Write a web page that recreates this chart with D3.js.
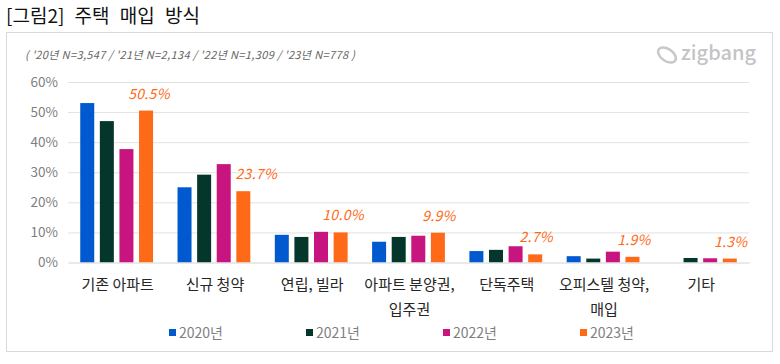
<!DOCTYPE html>
<html>
<head>
<meta charset="utf-8">
<script src="https://cdn.jsdelivr.net/npm/d3@7"></script>
<style>
html, body { margin: 0; padding: 0; background: #fff; }
svg { display: block; }
text { font-family: "Noto Sans CJK KR", "Noto Sans", sans-serif; }
</style>
</head>
<body>
<svg width="780" height="364"></svg>
<script>
// Chart data
var categories = [['기존 아파트'], ['신규 청약'], ['연립, 빌라'], ['아파트 분양권,', '입주권'], ['단독주택'], ['오피스텔 청약,', '매입'], ['기타']];
var years = ['2020년', '2021년', '2022년', '2023년'];
var values2020 = [53.0, 25.0, 9.2, 6.9, 3.8, 2.1, 0];
var values2021 = [47.0, 29.2, 8.5, 8.5, 4.2, 1.3, 1.5];
var values2022 = [37.7, 32.7, 10.2, 8.9, 5.4, 3.6, 1.4];
var values2023 = [50.5, 23.7, 10.0, 9.9, 2.7, 1.9, 1.3];
var yTicks = [0, 10, 20, 30, 40, 50, 60];
var seriesValues = [values2020, values2021, values2022, values2023];
var colors = ['#0059cf', '#04362c', '#c8147e', '#ff6a18'];
// the callouts on the 2023 bars do not sit exactly centred, nudge them
var labelNudge = [3, 13, 2.5, 1, 1, 1.5, 1];

var svg = d3.select('svg');
var padding = {l: 68, r: 749, t: 82, b: 262.5};

var xScale = d3.scaleBand()
    .domain(d3.range(categories.length))
    .range([padding.l, padding.r]);
var yScale = d3.scaleLinear()
    .domain([0, 60])
    .range([padding.b, padding.t]);
var xInner = d3.scaleBand()
    .domain(d3.range(years.length))
    .range([xScale.bandwidth() / 2 - 39.2, xScale.bandwidth() / 2 + 39.2]);
var barWidth = 14;

// Title and frame
svg.append('text')
    .attr('x', 6).attr('y', 23)
    .attr('font-size', 19)
    .attr('word-spacing', 6)
    .attr('fill', '#111')
    .text('[그림2] 주택 매입 방식');

svg.append('rect')
    .attr('x', 6.5).attr('y', 32.5)
    .attr('width', 766).attr('height', 319)
    .attr('fill', '#fff')
    .attr('stroke', '#d9d9d9');

svg.append('text')
    .attr('x', 25).attr('y', 59)
    .attr('font-size', 11)
    .attr('font-style', 'italic')
    .attr('letter-spacing', 0.37)
    .attr('fill', '#666')
    .text("( '20년 N=3,547 / '21년 N=2,134 / '22년 N=1,309 / '23년 N=778 )");

// Logo
var logo = svg.append('g').attr('transform', 'translate(667,55)');
logo.append('ellipse')
    .attr('rx', 10).attr('ry', 6)
    .attr('transform', 'rotate(35)')
    .attr('fill', 'none')
    .attr('stroke', '#c8c8c8')
    .attr('stroke-width', 2.5);
svg.append('text')
    .attr('x', 681).attr('y', 60)
    .attr('font-size', 20)
    .attr('font-weight', 500)
    .attr('fill', '#c4c4c4')
    .text('zigbang');

// Y axis with full width gridlines
var yAxis = d3.axisLeft(yScale)
    .tickValues(yTicks)
    .tickSize(-(padding.r - padding.l))
    .tickFormat(function(d) { return d + '%'; });
var yG = svg.append('g')
    .attr('transform', 'translate(' + padding.l + ',0)')
    .call(yAxis);
yG.select('.domain').remove();
yG.selectAll('.tick line').attr('stroke', '#e2e2e2').attr('stroke-width', 1);
yG.selectAll('.tick text')
    .attr('x', -10)
    .attr('font-size', 13.5)
    .attr('fill', '#7f7f7f');

// Bars
seriesValues.forEach(function(vals, s) {
    svg.append('g').selectAll('rect')
        .data(vals)
        .enter()
        .append('rect')
        .attr('x', function(d, i) { return xScale(i) + xInner(s) + (xInner.bandwidth() - barWidth) / 2; })
        .attr('y', function(d) { return yScale(d); })
        .attr('width', barWidth)
        .attr('height', function(d) { return yScale(0) - yScale(d); })
        .attr('fill', colors[s]);
});

// 2023 value labels
svg.append('g').selectAll('text')
    .data(values2023)
    .enter()
    .append('text')
    .attr('x', function(d, i) { return xScale(i) + xInner(3) + xInner.bandwidth() / 2 + labelNudge[i]; })
    .attr('y', function(d) { return yScale(d) - 12; })
    .attr('text-anchor', 'middle')
    .attr('font-size', 14)
    .attr('font-style', 'italic')
    .attr('letter-spacing', 0.3)
    .attr('fill', '#ff6a18')
    .text(function(d) { return d.toFixed(1) + '%'; });

// Category labels, some wrap onto two lines
var xAxis = d3.axisBottom(xScale)
    .tickSize(0)
    .tickFormat('');
var xG = svg.append('g')
    .attr('transform', 'translate(1,' + padding.b + ')')
    .call(xAxis);
xG.select('.domain').attr('stroke', '#e2e2e2');
xG.selectAll('.tick text').each(function(d) {
    var t = d3.select(this)
        .attr('y', 0).attr('dy', null)
        .attr('font-size', 15)
        .attr('fill', '#262626');
    categories[d].forEach(function(line, k) {
        t.append('tspan')
            .attr('x', 0)
            .attr('y', 27 + k * 25)
            .text(line);
    });
});

// Legend
var legendX = d3.scalePoint()
    .domain(years)
    .range([169, 580]);
var legend = svg.append('g').selectAll('g')
    .data(years)
    .enter()
    .append('g')
    .attr('transform', function(d) { return 'translate(' + legendX(d) + ',332)'; });
legend.append('rect')
    .attr('y', -3).attr('width', 7).attr('height', 7)
    .attr('fill', function(d, i) { return colors[i]; });
legend.append('text')
    .attr('x', 10).attr('y', 6)
    .attr('font-size', 14)
    .attr('fill', '#7f7f7f')
    .text(function(d) { return d; });
</script>
</body>
</html>
